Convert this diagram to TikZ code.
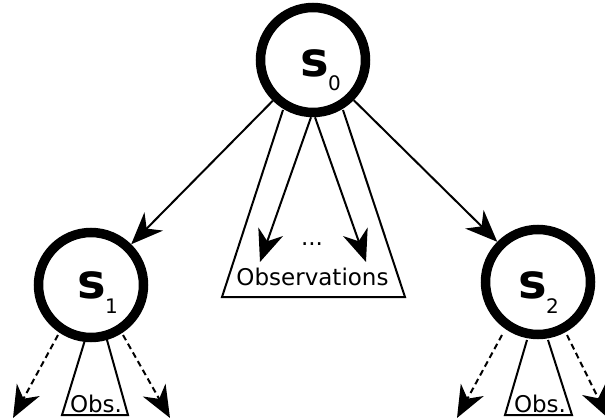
\documentclass[tikz,border=0pt]{standalone}
\usepackage{fontspec}
\setmainfont{DejaVu Sans}
\usetikzlibrary{arrows.meta}
\begin{document}
\begin{tikzpicture}[x=1pt,y=-1pt,
  state/.style={circle, draw, fill=white, line width=9.5pt, minimum size=105pt, inner sep=0pt},
  edge/.style={line width=2pt, -{Stealth[length=32pt,width=26pt,inset=10pt]}},
  dashedge/.style={edge, dash pattern=on 6pt off 4pt},
  tri/.style={line width=2pt, line join=miter},
  big/.style={anchor=base west, inner sep=0pt, font=\fontsize{48}{48}\selectfont\bfseries},
  sub/.style={anchor=base west, inner sep=0pt, font=\fontsize{20}{20}\selectfont},
  lbl/.style={anchor=base, inner sep=0pt, font=\fontsize{23}{23}\selectfont},
]
\useasboundingbox (0,0) rectangle (605,420);
\clip (0,0) rectangle (605,420);

% coordinates of triangles and free ends
\coordinate (ta) at (283,110);
\coordinate (tb) at (222,297);
\coordinate (tc) at (405,297);
\coordinate (td) at (343,110);
\coordinate (o1) at (260,262);
\coordinate (o2) at (366,262);

\coordinate (u1) at (85,340);
\coordinate (u2) at (62,415);
\coordinate (u3) at (128,415);
\coordinate (u4) at (107,340);
\coordinate (v1) at (527,340);
\coordinate (v2) at (505,415);
\coordinate (v3) at (572,415);
\coordinate (v4) at (548,340);

\coordinate (a1s) at (58,335);
\coordinate (a1e) at (13,418);
\coordinate (a2s) at (123,335);
\coordinate (a2e) at (170,418);
\coordinate (b1s) at (502,335);
\coordinate (b1e) at (457,418);
\coordinate (b2s) at (567,335);
\coordinate (b2e) at (608,418);

\draw[tri] (ta) -- (tb) -- (tc) -- (td);
\draw[tri] (u1) -- (u2) -- (u3) -- (u4);
\draw[tri] (v1) -- (v2) -- (v3) -- (v4);

\node[state] (s0) at (313,60) {};
\node[state] (s1) at (91,285) {};
\node[state] (s2) at (538,282) {};

\node[big] (s0l) at (300,77) {s};
\node[sub] (s0s) at (328,91) {0};
\node[big] (s1l) at (77,298) {s};
\node[sub] (s1s) at (105,313) {1};
\node[big] (s2l) at (518,298) {s};
\node[sub] (s2s) at (546,313) {2};

\draw[edge] (s0) -- (s1);
\draw[edge] (s0) -- (s2);
\draw[edge] ([xshift=-2pt]s0.south) -- (o1);
\draw[edge] ([xshift=2pt]s0.south) -- (o2);

\node[lbl] (dots) at (312,245) {...};
\node[lbl] (obs) at (312.5,285) {Observations};
\node[lbl] (obs1) at (96,412) {Obs.};
\node[lbl] (obs2) at (540,412) {Obs.};

\draw[dashedge] (a1s) -- (a1e);
\draw[dashedge] (a2s) -- (a2e);
\draw[dashedge] (b1s) -- (b1e);
\draw[dashedge] (b2s) -- (b2e);
\end{tikzpicture}
\end{document}
